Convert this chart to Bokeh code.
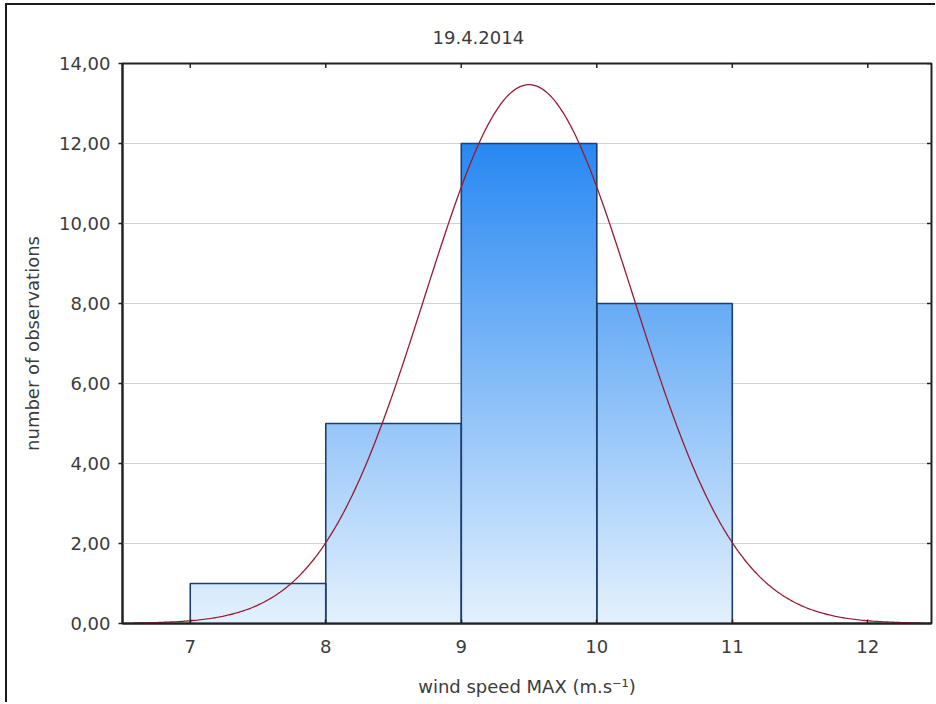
import numpy as np
from bokeh.plotting import figure
from bokeh.models import Title, FixedTicker, Range1d
from bokeh.embed import file_html
from bokeh.resources import INLINE

# ---- data ----
bin_left = [7, 8, 9, 10]
bin_right = [8, 9, 10, 11]
counts = [1, 5, 12, 8]
x_ticks = [7, 8, 9, 10, 11, 12]
x_tick_labels = ["7", "8", "9", "10", "11", "12"]
y_ticks = [0, 2, 4, 6, 8, 10, 12, 14]
y_tick_labels = ["0,00", "2,00", "4,00", "6,00", "8,00", "10,00", "12,00", "14,00"]
fit_mean = 9.5
fit_sd = 0.77
curve_from = 6.58
curve_to = 12.42
title_text = "19.4.2014"
x_label = "wind speed MAX (m.s\u207b\u00b9)"
y_label = "number of observations"

# ---- style ----
FONT = "DejaVu Sans"
FS = "18px"
TXT = "#3c3c3c"
LOW = np.array([228, 241, 253])
HIGH = np.array([40, 136, 242])
STEP = 0.04
X0, X1, Y0, Y1 = 6.5, 12.47, 0, 14

p = figure(frame_width=809, frame_height=560,
           min_border_left=115, min_border_right=4, min_border_top=58, min_border_bottom=79,
           x_range=Range1d(X0, X1), y_range=Range1d(Y0, Y1),
           output_backend="svg", toolbar_location=None,
           background_fill_color="white", border_fill_color="white")

# outer window frame (left and top edges visible in the reference)
p.styles = {"border-left": "2px solid #1a1a1a", "border-top": "2px solid #1a1a1a",
            "margin-left": "5px", "margin-top": "3px"}

# gradient fill as overlapping horizontal strips, colour by height
top_count = max(counts)
sl, sr, sb, st, sc = [], [], [], [], []
for l, r, c in zip(bin_left, bin_right, counts):
    for b in np.arange(0, c, STEP):
        t = min(b + 2.5 * STEP, c)
        mid = (b + STEP / 2) / top_count
        col = LOW + (HIGH - LOW) * mid
        sl.append(l); sr.append(r); sb.append(b); st.append(t)
        sc.append("#%02x%02x%02x" % tuple(int(round(v)) for v in col))
p.quad(left=sl, right=sr, bottom=sb, top=st, fill_color=sc, line_color=None)
p.quad(left=bin_left, right=bin_right, bottom=0, top=counts,
       fill_color=None, line_color="#1d3f6e", line_width=1.6)

# fitted normal curve
n_obs = sum(counts)
bin_width = bin_right[0] - bin_left[0]
xs = np.linspace(curve_from, curve_to, 400)
ys = n_obs * bin_width / (fit_sd * np.sqrt(2 * np.pi)) * np.exp(-0.5 * ((xs - fit_mean) / fit_sd) ** 2)
p.line(xs, ys, line_color="#951c34", line_width=1.3)

# inner tick marks on top and right frame edges (half of each dash is clipped)
p.scatter(x_ticks, [Y1] * len(x_ticks), marker="dash", angle=np.pi / 2, size=9,
          line_color="#222222", line_width=1.5)
p.scatter([X1] * len(y_ticks), y_ticks, marker="dash", size=9,
          line_color="#222222", line_width=1.5)

# axes
p.xaxis.ticker = FixedTicker(ticks=x_ticks)
p.xaxis.major_label_overrides = dict(zip(x_ticks, x_tick_labels))
p.yaxis.ticker = FixedTicker(ticks=y_ticks)
p.yaxis.major_label_overrides = dict(zip(y_ticks, y_tick_labels))
for ax in (p.xaxis[0], p.yaxis[0]):
    ax.major_label_text_font = FONT
    ax.major_label_text_font_size = FS
    ax.major_label_text_color = TXT
    ax.axis_label_text_font = FONT
    ax.axis_label_text_font_size = FS
    ax.axis_label_text_color = TXT
    ax.axis_label_text_font_style = "normal"
    ax.minor_tick_line_color = None
    ax.axis_line_color = "#222222"
    ax.axis_line_width = 2
    ax.major_tick_line_color = "#222222"
    ax.major_tick_line_width = 1.5
p.xaxis.axis_label = x_label
p.yaxis.axis_label = y_label
p.xaxis.major_tick_out = 0
p.xaxis.major_tick_in = 4
p.xaxis.major_label_standoff = 16
p.xaxis.axis_label_standoff = 20
p.yaxis.major_tick_out = 4
p.yaxis.major_tick_in = 0
p.yaxis.major_label_standoff = 8
p.yaxis.axis_label_standoff = 13

p.xgrid.grid_line_color = None
p.ygrid.ticker = FixedTicker(ticks=y_ticks)
p.ygrid.grid_line_color = "#d2d2d2"
p.ygrid.grid_line_width = 1
p.outline_line_color = "#222222"
p.outline_line_width = 2

p.title = Title(text=title_text, align="left", offset=310, standoff=39,
                text_font=FONT, text_font_size=FS, text_font_style="normal",
                text_color=TXT)

open("out.html", "w").write(file_html(p, INLINE))
